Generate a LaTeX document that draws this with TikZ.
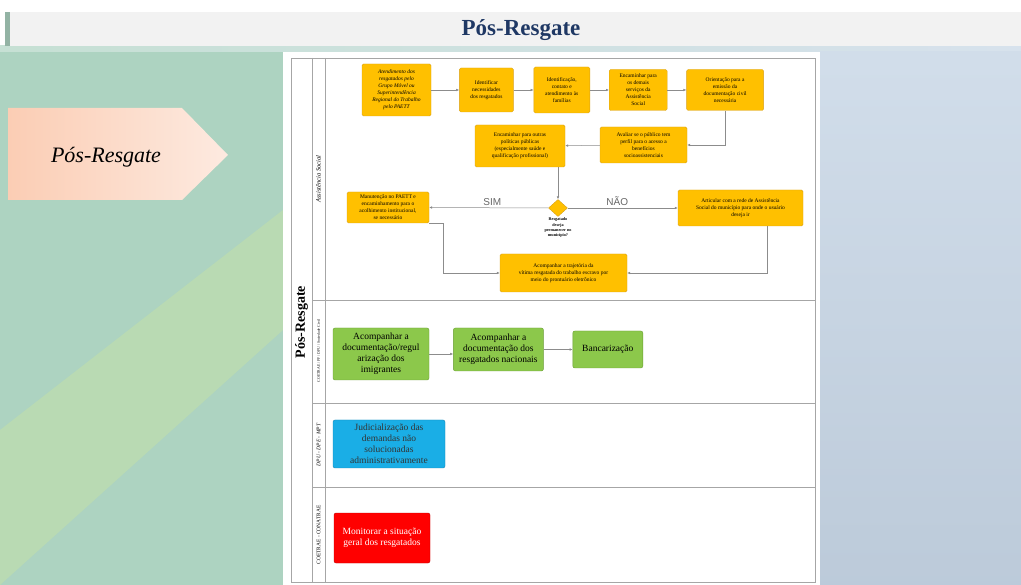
\documentclass[tikz,border=0pt]{standalone}
\usepackage{fontspec}
\setmainfont{Liberation Serif}
\newfontfamily\lblfont{Liberation Sans}
\usetikzlibrary{arrows.meta,positioning,shapes.geometric}

\definecolor{boxgold}{HTML}{FFC000}
\definecolor{goldline}{HTML}{D9A21B}
\definecolor{leafgreen}{HTML}{8CC84B}
\definecolor{leafline}{HTML}{6A9E34}
\definecolor{skyblue}{HTML}{1AAEE6}
\definecolor{skyline}{HTML}{1685B5}
\definecolor{alertred}{HTML}{FF0000}
\definecolor{alertline}{HTML}{C00000}
\definecolor{flowgray}{HTML}{8C8C8C}
\definecolor{lanegray}{HTML}{A6A6A6}
\definecolor{titlenavy}{HTML}{1F3864}
\definecolor{titlegray}{HTML}{F2F2F2}
\definecolor{mint}{HTML}{ADD3C1}
\definecolor{limegreen}{HTML}{C8E3A2}
\definecolor{paleblue}{HTML}{C6D5E5}
\definecolor{peach}{HTML}{FBCDB4}
\definecolor{peachlt}{HTML}{FDEAE0}

\begin{document}
\begin{tikzpicture}[
  x=1pt, y=-1pt,
  >=Latex,
  act/.style={draw=goldline, fill=boxgold, rounded corners=1.5pt, align=center,
    inner sep=1pt, font=\fontsize{5.5}{7}\selectfont},
  grn/.style={draw=leafline, fill=leafgreen, rounded corners=2pt, align=center,
    inner sep=1pt, font=\fontsize{9.5}{11}\selectfont},
  flow/.style={draw=flowgray, line width=0.5pt, -{Latex[length=3pt,width=2.6pt]}},
  lane/.style={draw=lanegray, line width=0.6pt},
  lanelbl/.style={rotate=90, inner sep=0pt},
  answer/.style={font=\lblfont\fontsize{10}{10}\selectfont, text=black!60}]

\useasboundingbox (0,0) rectangle (1021,585);

% fundo do slide
\fill[white] (0,0) rectangle (1021,585);
\fill[mint] (0,46) rectangle (520,585);
\fill[paleblue] (520,46) rectangle (1021,585);
\fill[limegreen, opacity=0.45] (0,430) -- (283,210) -- (283,330) -- (0,585) -- cycle;
\shade[left color=mint!70!white, right color=paleblue!70!white] (0,46) rectangle (1021,52);
\shade[top color=paleblue!80!white, bottom color=paleblue!95!black] (820,52) rectangle (1021,585);
\fill[titlegray] (10,12) rectangle (1021,46);
\fill[mint!85!black] (5,12) rectangle (10,46);
\node[font=\bfseries\fontsize{23}{23}\selectfont, text=titlenavy] (title) at (521,30) {Pós-Resgate};

% seta lateral
\shade[left color=peach, right color=peachlt] (8,108) -- (182,108) -- (228,155) -- (182,200) -- (8,200) -- cycle;
\node[font=\itshape\fontsize{22}{22}\selectfont] (fase) at (106,157) {Pós-Resgate};

% folha branca e raias
\fill[white] (283,52) rectangle (820,585);
\draw[lane] (291,58) rectangle (815,582);
\draw[lane] (312,58) -- (312,582);
\draw[lane] (325,58) -- (325,582);
\draw[lane] (312,300) -- (815,300);
\draw[lane] (312,403) -- (815,403);
\draw[lane] (312,487) -- (815,487);

\node[lanelbl, font=\bfseries\fontsize{14}{14}\selectfont] (pool) at (301.5,322) {Pós-Resgate};
\node[lanelbl, font=\itshape\fontsize{6.5}{6.5}\selectfont] (laneAS) at (318.5,179) {Assistência Social};
\node[lanelbl, font=\fontsize{3.8}{3.8}\selectfont] (laneCO) at (318.5,351) {COETRAE / PF / DPU / Sociedade Civil};
\node[lanelbl, font=\itshape\fontsize{5.5}{5.5}\selectfont] (laneDP) at (318.5,445) {DPU - DPE - MPT};
\node[lanelbl, font=\fontsize{5.5}{5.5}\selectfont] (laneCN) at (318.5,535) {COETRAE - CONATRAE};

% Assistencia Social
\node[act, minimum width=69pt, minimum height=52pt, font=\itshape\fontsize{5.5}{7}\selectfont] (atend) at (396.5,90)
  {Atendimento dos\\resgatados pelo\\Grupo Móvel ou\\Superintendência\\Regional do Trabalho\\pelo PAETT};
\node[act, minimum width=54pt, minimum height=44pt, right=28pt of atend] (ident)
  {Identificar\\necessidades\\dos resgatados};
\node[act, minimum width=56pt, minimum height=46pt, right=20pt of ident] (famil)
  {Identificação,\\contato e\\atendimento às\\famílias};
\node[act, minimum width=58pt, minimum height=41pt, right=19pt of famil] (encam)
  {Encaminhar para\\os demais\\serviços da\\Assistência\\Social};
\node[act, minimum width=77pt, minimum height=41pt, right=19pt of encam] (docum)
  {Orientação para a\\emissão da\\documentação civil\\necessária};
\node[act, minimum width=87pt, minimum height=36pt] (avali) at (643.5,145)
  {Avaliar se o público tem\\perfil para o acesso a\\benefícios\\socioassistenciais};
\node[act, minimum width=90pt, minimum height=42pt] (polit) at (520,146)
  {Encaminhar para outras\\políticas públicas\\(especialmente saúde e\\qualificação profissional)};
\node[diamond, aspect=1, draw=goldline, fill=boxgold, minimum width=19pt, minimum height=17pt, inner sep=0pt] (decid) at (558,208) {};
\node[below=1pt of decid, align=center, inner sep=0pt, font=\bfseries\fontsize{4.2}{5.2}\selectfont] (quest)
  {Resgatado\\deseja\\permanecer no\\município?};
\node[act, minimum width=82pt, minimum height=31pt] (manut) at (388,207.5)
  {Manutenção no PAETT e\\encaminhamento para o\\acolhimento institucional,\\se necessário};
\node[act, minimum width=125pt, minimum height=36pt] (artic) at (740.5,208)
  {Articular com a rede de Assistência\\Social do município para onde o usuário\\deseja ir};
\node[act, minimum width=127pt, minimum height=38pt] (traje) at (563.5,273)
  {Acompanhar a trajetória da\\vítima resgatada do trabalho escravo por\\meio do prontuário eletrônico};

\draw[flow] (atend) -- (ident);
\draw[flow] (ident) -- (famil);
\draw[flow] (famil) -- (encam);
\draw[flow] (encam) -- (docum);
\draw[flow] (docum.south) |- (avali.east);
\draw[flow] (avali) -- (polit);
\draw[flow] (polit.south -| decid.north) -- (decid.north);
\draw[flow] (decid.west) -- node[answer, above=-1pt, pos=0.47] {SIM} (manut.east);
\draw[flow] (decid.east) -- node[answer, above=-1pt, pos=0.45] {NÃO} (artic.west);
\draw[flow] (manut.south east) -- ++(14,0) |- (traje.west);
\draw[flow] ([xshift=26.5pt]artic.south) |- (traje.east);

% COETRAE / PF / DPU / Sociedade Civil
\node[grn, minimum width=96pt, minimum height=52pt] (imigr) at (381,354)
  {Acompanhar a\\documentação/regul\\arização dos\\imigrantes};
\node[grn, minimum width=90pt, minimum height=43pt, right=24pt of imigr, yshift=4.5pt] (nacio)
  {Acompanhar a\\documentação dos\\resgatados nacionais};
\node[grn, minimum width=70pt, minimum height=37pt, right=29pt of nacio] (banca)
  {Bancarização};

\draw[flow] (imigr.east) -- (imigr.east -| nacio.west);
\draw[flow] (nacio) -- (banca);

% DPU - DPE - MPT
\node[grn, draw=skyline, fill=skyblue, minimum width=112pt, minimum height=48pt, text=black!80] (judic) at (389,444)
  {Judicialização das\\demandas não\\solucionadas\\administrativamente};

% COETRAE - CONATRAE
\node[grn, draw=alertline, fill=alertred, minimum width=96pt, minimum height=50pt, text=white] (monit) at (382,538)
  {Monitorar a situação\\geral dos resgatados};

\end{tikzpicture}
\end{document}
